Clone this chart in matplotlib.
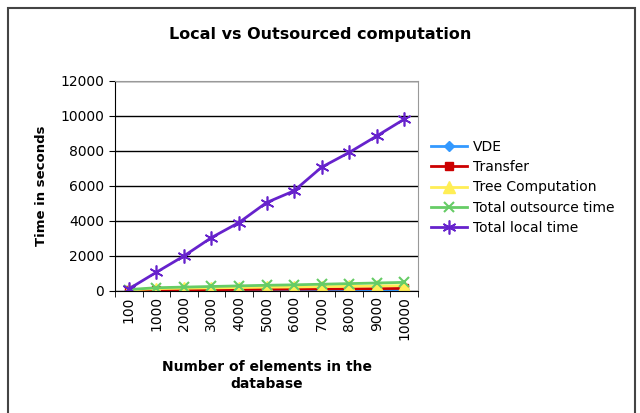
import matplotlib
matplotlib.use("Agg")
import matplotlib.pyplot as plt
from matplotlib.patches import Rectangle

# valeurs
categories = ["100", "1000", "2000", "3000", "4000", "5000", "6000", "7000", "8000", "9000", "10000"]
vde = [5, 10, 15, 20, 25, 30, 35, 40, 45, 50, 55]
transfer = [20, 40, 50, 60, 70, 80, 90, 100, 110, 120, 130]
tree_computation = [40, 120, 140, 160, 180, 200, 210, 230, 250, 270, 290]
total_outsource = [65, 170, 205, 240, 275, 310, 335, 370, 405, 440, 475]
total_local = [100, 1050, 1980, 3030, 3890, 5030, 5700, 7050, 7890, 8830, 9790]

W, H = 640, 413
fig = plt.figure(figsize=(W / 100, H / 100), dpi=100)
plt.rcParams["font.family"] = ["DejaVu Sans"]

# cadre autour du graphique
fig.patches.append(Rectangle((8 / W, -0.05), 627 / W, 1.05 - 8 / H, transform=fig.transFigure,
                             fill=False, edgecolor="#444444", linewidth=1.5))

ax = fig.add_axes([115 / W, 1 - 290.7 / H, 303 / W, 210.2 / H])
x = list(range(len(categories)))

ax.plot(x, vde, color="#3399ff", marker="D", markersize=5, linewidth=2, label="VDE")
ax.plot(x, transfer, color="#cc0000", marker="s", markersize=6, linewidth=2, label="Transfer")
ax.plot(x, tree_computation, color="#ffee55", marker="^", markersize=8, linewidth=2,
        label="Tree Computation")
ax.plot(x, total_outsource, color="#66cc66", marker="x", markersize=7, markeredgewidth=1.5,
        linewidth=2, label="Total outsource time")
ax.plot(x, total_local, color="#6622cc", marker=(6, 2, 0), markersize=10, markeredgewidth=1.2,
        linewidth=2, label="Total local time")

ax.set_xlim(-0.5, len(categories) - 0.5)
ax.set_ylim(0, 12000)
ax.set_yticks(range(0, 12001, 2000))
ax.yaxis.grid(True, color="black", linewidth=1)
ax.set_axisbelow(True)

ax.set_xticks(x)
ax.set_xticklabels(categories, rotation=90, fontsize=10)
ax.set_xticks([i - 0.5 for i in range(len(categories) + 1)], minor=True)
ax.tick_params(axis="x", which="major", length=0, pad=4)
ax.tick_params(axis="x", which="minor", length=4, direction="out", color="black")
ax.tick_params(axis="y", length=4, direction="out", labelsize=10, pad=4)

ax.spines["left"].set_color("black")
ax.spines["bottom"].set_color("black")
ax.spines["top"].set_color("#999999")
ax.spines["right"].set_color("#999999")

ax.set_ylabel("Time in seconds", fontsize=9.5, fontweight="bold", labelpad=9)
ax.set_xlabel("Number of elements in the\ndatabase", fontsize=10, fontweight="bold",
              labelpad=14, linespacing=1.3)

fig.text(0.5, 1 - 35 / H, "Local vs Outsourced computation", ha="center", va="center",
         fontsize=11.5, fontweight="bold")

fig.legend(loc="upper left", bbox_to_anchor=(431 / W, 1 - 140 / H), frameon=False,
           fontsize=10, handlelength=2.6, handletextpad=0.4, labelspacing=0.45,
           borderpad=0, borderaxespad=0)

fig.savefig("out.png", dpi=100)
